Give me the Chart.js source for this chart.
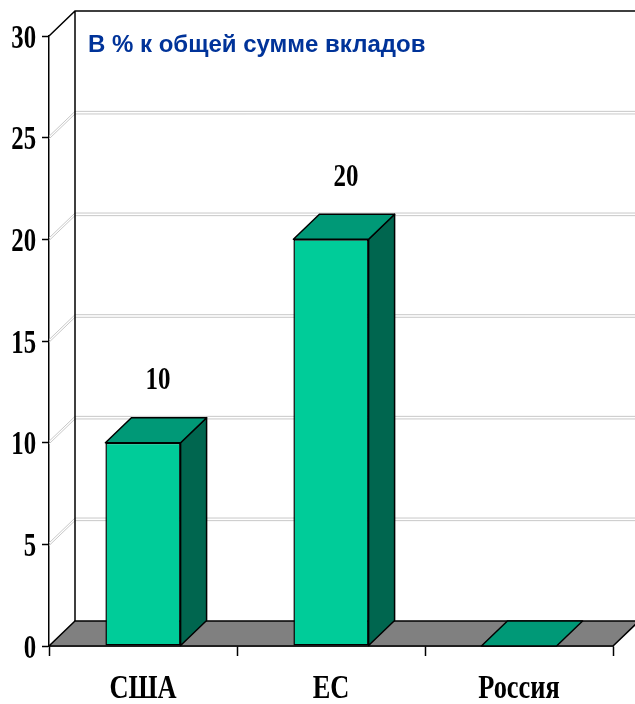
<!DOCTYPE html>
<html>
<head>
<meta charset="utf-8">
<script src="https://cdn.jsdelivr.net/npm/chart.js@4/dist/chart.umd.min.js"></script>
<style>
  html, body { margin: 0; padding: 0; background: #ffffff; }
  #wrap { width: 635px; height: 704px; position: relative; }
</style>
</head>
<body>
<div id="wrap"><canvas id="c"></canvas></div>
<script>
const categories = ['США', 'ЕС', 'Россия'];
const shares = [10, 20, 0];
const valueLabels = ['10', '20', ''];
const titleText = 'В % к общей сумме вкладов';

const DX = 26, DY = 25;
const FRONT = '#00CC99', TOP = '#009977', SIDE = '#00664F';
const SERIF = "'Liberation Serif', 'Times New Roman', serif";

function condText(ctx, text, x, y, align, size, sx) {
  ctx.save();
  ctx.translate(x, y);
  ctx.scale(sx, 1);
  ctx.font = 'bold ' + size + 'px ' + SERIF;
  ctx.fillStyle = '#000';
  ctx.textAlign = align;
  ctx.textBaseline = 'middle';
  ctx.fillText(text, 0, 0);
  ctx.restore();
}

const walls = {
  id: 'walls',
  beforeDatasetsDraw(chart) {
    const ctx = chart.ctx, a = chart.chartArea, ys = chart.scales.y;
    const W = chart.width;
    ctx.save();
    ys.ticks.forEach(t => {
      if (t.value === ys.min || t.value === ys.max) return;
      const y = ys.getPixelForValue(t.value);
      ctx.strokeStyle = '#c8c8c8';
      ctx.lineWidth = 1;
      [-1.3, 1.3].forEach(o => {
        ctx.beginPath();
        ctx.moveTo(a.left, y + o);
        ctx.lineTo(a.left + DX, y - DY + o);
        ctx.lineTo(W, y - DY + o);
        ctx.stroke();
      });
    });
    const yTop = ys.getPixelForValue(ys.max);
    const yBase = ys.getPixelForValue(0);
    ctx.strokeStyle = '#000';
    ctx.lineWidth = 1.5;
    ctx.beginPath();
    ctx.moveTo(a.left, yTop);
    ctx.lineTo(a.left + DX, yTop - DY);
    ctx.lineTo(W, yTop - DY);
    ctx.moveTo(a.left + DX, yTop - DY);
    ctx.lineTo(a.left + DX, yBase - DY);
    ctx.stroke();
    ctx.fillStyle = '#808080';
    ctx.beginPath();
    ctx.moveTo(a.left, yBase);
    ctx.lineTo(a.right, yBase);
    ctx.lineTo(a.right + DX, yBase - DY);
    ctx.lineTo(a.left + DX, yBase - DY);
    ctx.closePath();
    ctx.fill();
    ctx.stroke();
    ctx.restore();
  },
  afterDatasetsDraw(chart) {
    const ctx = chart.ctx;
    const meta = chart.getDatasetMeta(0);
    ctx.save();
    ctx.strokeStyle = '#000';
    ctx.lineWidth = 1.5;
    ctx.lineJoin = 'round';
    meta.data.forEach((bar, i) => {
      const p = bar.getProps(['x', 'y', 'base', 'width'], true);
      const x0 = p.x - p.width / 2, x1 = p.x + p.width / 2;
      const top = Math.min(p.y, p.base), b = Math.max(p.y, p.base);
      if (b - top > 0.5) {
        ctx.fillStyle = SIDE;
        ctx.beginPath();
        ctx.moveTo(x1, top);
        ctx.lineTo(x1 + DX, top - DY);
        ctx.lineTo(x1 + DX, b - DY);
        ctx.lineTo(x1, b);
        ctx.closePath();
        ctx.fill(); ctx.stroke();
      }
      ctx.fillStyle = TOP;
      ctx.beginPath();
      ctx.moveTo(x0, top);
      ctx.lineTo(x1, top);
      ctx.lineTo(x1 + DX, top - DY);
      ctx.lineTo(x0 + DX, top - DY);
      ctx.closePath();
      ctx.fill(); ctx.stroke();
      if (valueLabels[i]) {
        condText(ctx, valueLabels[i], p.x + DX / 2 + 2, top - 62, 'center', 32, 0.78);
      }
    });
    ctx.restore();
  },
  afterDraw(chart) {
    const ctx = chart.ctx, ys = chart.scales.y, xs = chart.scales.x, a = chart.chartArea;
    ys.ticks.forEach(t => {
      condText(ctx, t.label, 36, ys.getPixelForValue(t.value) + 3, 'right', 33, 0.75);
    });
    xs.ticks.forEach((t, i) => {
      condText(ctx, categories[i], xs.getPixelForTick(i), 689, 'center', 33, 0.8);
    });
    ctx.save();
    ctx.font = 'bold 24px "Liberation Sans", Arial, sans-serif';
    ctx.fillStyle = '#003399';
    ctx.textAlign = 'left';
    ctx.textBaseline = 'middle';
    ctx.fillText(titleText, a.left + DX + 13, 45);
    ctx.restore();
  }
};

new Chart(document.getElementById('c'), {
  type: 'bar',
  data: {
    labels: categories,
    datasets: [{
      data: shares,
      backgroundColor: FRONT,
      borderColor: '#000',
      borderWidth: 1.5,
      borderSkipped: false,
      barPercentage: 0.4,
      categoryPercentage: 1.0
    }]
  },
  options: {
    responsive: true,
    maintainAspectRatio: false,
    animation: false,
    layout: { padding: { top: 36, right: 22, left: 0, bottom: 0 } },
    plugins: { legend: { display: false }, tooltip: { enabled: false }, title: { display: false } },
    scales: {
      y: {
        min: 0, max: 30,
        ticks: { stepSize: 5, display: false },
        grid: { drawOnChartArea: false, drawTicks: true, tickLength: 7, color: '#000', tickWidth: 1.5 },
        border: { display: true, color: '#000', width: 1.5 },
        afterFit(s) { s.width = 49; }
      },
      x: {
        offset: true,
        ticks: { display: false },
        grid: { offset: true, drawOnChartArea: false, drawTicks: true, tickLength: 10, color: '#000', tickWidth: 1.5 },
        border: { display: true, color: '#000', width: 1.5 },
        afterFit(s) { s.height = 58; }
      }
    }
  },
  plugins: [walls]
});
</script>
</body>
</html>
